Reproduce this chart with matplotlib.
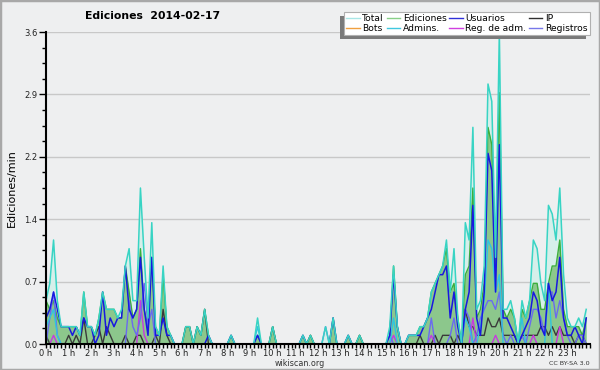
import matplotlib
matplotlib.use("Agg")
import matplotlib.pyplot as plt
from matplotlib.lines import Line2D
from matplotlib.patches import Rectangle
from matplotlib.ticker import MultipleLocator, FixedLocator

# edits per minute, 10 minute bins, 2014-02-17
total = [.5, .7, 1.2, .5, .2, .2, .2, .2, .2, .1, .6, .2, .2, .1, .3, .6, .4, .4, .4, .3, .4, .9, 1.1, .5,
         .5, 1.8, 1.0, .3, 1.4, .2, .1, .9, .2, .1, 0, 0, 0, .2, .2, 0, .2, .1, .4, .1, 0, 0, 0, 0,
         0, .1, 0, 0, 0, 0, 0, 0, .3, 0, 0, 0, .2, 0, 0, 0, 0, 0, 0, 0, .1, 0, .1, 0,
         0, 0, .2, 0, .3, 0, 0, 0, .1, 0, 0, .1, 0, 0, 0, 0, 0, 0, 0, .2, .9, .2, 0, 0,
         .1, .1, .1, .2, .2, .3, .6, .7, .8, .9, 1.2, .6, 1.1, .3, 0, 1.4, 1.2, 2.5, .4, .5, .9, 3.0, 2.8, 1.0,
         3.6, .4, .4, .5, .3, 0, .5, .3, .5, 1.2, 1.1, .7, .5, 1.6, 1.5, 1.2, 1.8, .8, .3, .2, .2, .3, .2, .4]
edits = [.5, .4, .5, .3, .2, .2, .2, .2, .2, .1, .6, .2, .2, .1, .3, .6, .4, .4, .4, .3, .3, .9, .6, .3,
         .4, 1.1, .4, .2, 1.0, .2, .1, .8, .2, .1, 0, 0, 0, .2, .2, 0, .2, .1, .4, .1, 0, 0, 0, 0,
         0, .1, 0, 0, 0, 0, 0, 0, .1, 0, 0, 0, .2, 0, 0, 0, 0, 0, 0, 0, .1, 0, .1, 0,
         0, 0, 0, 0, .3, 0, 0, 0, .1, 0, 0, .1, 0, 0, 0, 0, 0, 0, 0, .1, .9, .2, 0, 0,
         .1, .1, .1, .2, .2, .3, .6, .7, .8, .9, 1.1, .6, .7, .3, 0, .8, .9, 1.8, .3, .4, .7, 2.5, 2.3, .9,
         2.9, .4, .3, .4, .3, 0, .4, .3, .5, .7, .7, .4, .4, .7, .9, .9, 1.2, .4, .2, .2, .2, .2, .1, .3]
users = [.3, .4, .6, .4, .2, .2, .2, .1, .2, .1, .3, .2, .2, 0, .1, .6, .1, .3, .2, .3, .3, .9, .4, .3,
         .4, 1.0, .4, .1, 1.0, .1, .1, .3, .1, .1, 0, 0, 0, 0, 0, 0, 0, 0, 0, .1, 0, 0, 0, 0,
         0, .1, 0, 0, 0, 0, 0, 0, .1, 0, 0, 0, 0, 0, 0, 0, 0, 0, 0, 0, .1, 0, 0, 0,
         0, 0, 0, 0, .3, 0, 0, 0, .1, 0, 0, 0, 0, 0, 0, 0, 0, 0, 0, .1, .8, .2, 0, 0,
         .1, .1, .1, .1, .2, .3, .4, .6, .8, .8, .9, .3, .6, .2, 0, .4, .6, 1.6, .3, .1, .6, 2.2, 2.0, .6,
         2.3, .3, .3, .2, .1, 0, .1, .2, .3, .6, .5, .2, .1, .7, .5, .6, 1.0, .3, .1, .1, .2, .1, 0, .3]
ip = [.1, 0, 0, 0, 0, 0, .1, 0, .1, 0, .3, 0, 0, .1, .2, 0, .2, .1, 0, 0, 0, .1, 0, 0,
      .1, .1, 0, 0, 0, .1, 0, .4, .1, 0, 0, 0, 0, .2, .2, 0, .2, .1, .4, 0, 0, 0, 0, 0,
      0, 0, 0, 0, 0, 0, 0, 0, 0, 0, 0, 0, .2, 0, 0, 0, 0, 0, 0, 0, 0, 0, .1, 0,
      0, 0, 0, 0, 0, 0, 0, 0, 0, 0, 0, .1, 0, 0, 0, 0, 0, 0, 0, 0, 0, 0, 0, 0,
      0, 0, 0, .1, 0, 0, 0, .1, 0, .1, .1, .1, 0, .1, 0, .4, .2, .2, .1, .1, .1, .3, .2, .2,
      .3, .1, .1, .1, .1, 0, .1, .1, .1, .1, .1, .2, .2, .1, .2, .1, .2, .1, .1, .1, 0, .1, .1, 0]
bots = [0, 0, 0, 0, 0, 0, 0, 0, 0, 0, 0, 0, 0, 0, 0, 0, 0, 0, 0, 0, 0, 0, 0, 0,
        0, 0, 0, 0, 0, 0, 0, 0, 0, 0, 0, 0, 0, 0, 0, 0, 0, 0, 0, 0, 0, 0, 0, 0,
        0, 0, 0, 0, 0, 0, 0, 0, 0, 0, 0, 0, 0, 0, 0, 0, 0, 0, 0, 0, 0, 0, 0, 0,
        0, 0, 0, 0, 0, 0, 0, 0, 0, 0, 0, 0, 0, 0, 0, 0, 0, 0, 0, 0, 0, 0, 0, 0,
        0, 0, 0, 0, 0, 0, 0, 0, 0, 0, 0, 0, 0, 0, 0, 0, 0, 0, 0, 0, 0, 0, 0, 0,
        0, 0, 0, 0, 0, 0, 0, 0, 0, 0, 0, 0, 0, 0, 0, 0, 0, 0, 0, 0, 0, 0, 0, 0]
admins = [.2, .3, .4, .1, 0, 0, 0, 0, 0, 0, 0, 0, 0, 0, 0, 0, 0, 0, 0, 0, 0, 0, 0, 0,
          0, 0, 0, 0, 0, 0, 0, 0, 0, 0, 0, 0, 0, 0, 0, 0, 0, 0, 0, 0, 0, 0, 0, 0,
          0, 0, 0, 0, 0, 0, 0, 0, .2, 0, 0, 0, 0, 0, 0, 0, 0, 0, 0, 0, 0, 0, 0, 0,
          0, 0, 0, 0, 0, 0, 0, 0, 0, 0, 0, 0, 0, 0, 0, 0, 0, 0, 0, 0, .3, 0, 0, 0,
          0, 0, 0, 0, 0, 0, 0, 0, 0, 0, 0, 0, 0, 0, 0, .3, .2, 0, 0, .2, .5, 1.2, 1.1, .6,
          .8, 0, 0, 0, 0, 0, .3, 0, 0, 0, 0, 0, 0, .7, 0, 0, 0, 0, 0, 0, 0, 0, 0, 0]
reg_adm = [0, 0, .1, 0, 0, 0, 0, 0, 0, 0, 0, 0, 0, 0, 0, 0, 0, 0, 0, 0, 0, 0, 0, 0,
           0, .5, .1, 0, 0, 0, 0, 0, 0, 0, 0, 0, 0, 0, 0, 0, 0, 0, 0, 0, 0, 0, 0, 0,
           0, 0, 0, 0, 0, 0, 0, 0, 0, 0, 0, 0, 0, 0, 0, 0, 0, 0, 0, 0, 0, 0, 0, 0,
           0, 0, 0, 0, 0, 0, 0, 0, 0, 0, 0, 0, 0, 0, 0, 0, 0, 0, 0, 0, .1, 0, 0, 0,
           0, 0, 0, 0, 0, 0, .1, 0, 0, 0, 0, 0, 0, 0, 0, 0, 0, .3, 0, 0, 0, 0, 0, .1,
           0, 0, 0, 0, 0, 0, 0, 0, 0, .1, 0, 0, 0, 0, 0, 0, .2, 0, 0, 0, 0, 0, 0, 0]
logs = [0, .3, .6, .1, 0, 0, 0, 0, 0, 0, 0, 0, 0, 0, 0, 0, 0, 0, 0, 0, 0, 0, .5, .2,
        .1, .3, .7, .2, .4, 0, 0, 0, 0, 0, 0, 0, 0, 0, 0, 0, 0, 0, 0, 0, 0, 0, 0, 0,
        0, 0, 0, 0, 0, 0, 0, 0, 0, 0, 0, 0, 0, 0, 0, 0, 0, 0, 0, 0, 0, 0, 0, 0,
        0, 0, .2, 0, 0, 0, 0, 0, 0, 0, 0, 0, 0, 0, 0, 0, 0, 0, 0, .1, 0, 0, 0, 0,
        0, 0, 0, 0, 0, 0, .3, 0, 0, 0, 0, .1, .3, 0, 0, .4, .3, 0, .1, .3, .4, .5, .5, .4,
        .6, .1, 0, .1, 0, 0, .1, 0, .2, .4, .4, .3, .1, .6, .6, .3, .5, .3, .1, 0, 0, .1, .1, 0]

hour_labels = ["%d h" % h for h in range(24)]
x = [i / 6 for i in range(len(total))]

bg = "#eeeff0"
fig = plt.figure(figsize=(6, 3.7), dpi=100, facecolor=bg)
ax = fig.add_axes([46 / 600, 26 / 370, 544 / 600, 312 / 370])
ax.set_facecolor(bg)

# fills
ax.fill_between(x, total, color="#d6efea", lw=0, zorder=1)
ax.fill_between(x, edits, color="#8cc78c", lw=0, zorder=2)

# lines
ax.plot(x, bots, color="#f0a040", lw=1, zorder=3)
ax.plot(x, ip, color="#3a3a3a", lw=1, zorder=4)
ax.plot(x, reg_adm, color="#c838e0", lw=1, zorder=4)
ax.plot(x, logs, color="#6a6af0", lw=1, zorder=4)
ax.plot(x, edits, color="#3cae3c", lw=1, zorder=3)
ax.plot(x, admins, color="#30c4e0", lw=1, zorder=5)
ax.plot(x, users, color="#1818e0", lw=1.1, zorder=6)
ax.plot(x, total, color="#38d4c4", lw=1.1, zorder=7)

ax.set_xlim(0, 24)
ax.set_ylim(0, 3.6)

# axes formatting
for s in ["top", "right"]:
    ax.spines[s].set_visible(False)
ax.spines["left"].set_linewidth(1.5)
ax.spines["bottom"].set_linewidth(1.5)
ax.spines["left"].set_zorder(10)
ax.spines["bottom"].set_zorder(10)

yt = [0, 0.72, 1.44, 2.16, 2.88, 3.6]
ax.yaxis.set_major_locator(FixedLocator(yt))
ax.yaxis.set_minor_locator(MultipleLocator(0.18))
ax.set_yticklabels(["%.1f" % v for v in yt])
ax.xaxis.set_major_locator(FixedLocator(list(range(24))))
ax.xaxis.set_minor_locator(MultipleLocator(1 / 6))
ax.set_xticklabels(hour_labels)
ax.tick_params(axis="both", which="both", direction="out", color="black", labelsize=6, labelcolor="#222222")
ax.tick_params(axis="x", which="major", length=3, width=1, pad=0.5)
ax.tick_params(axis="x", which="minor", length=3, width=1)
ax.tick_params(axis="y", which="major", length=5, width=1, pad=1)
ax.tick_params(axis="y", which="minor", length=3, width=1)
ax.grid(axis="y", which="major", color="#c8c8c8", lw=1)
ax.set_axisbelow(True)

ax.set_ylabel("Ediciones/min", fontsize=8, labelpad=5)

fig.text(85 / 600, 1 - 16 / 370, "Ediciones  2014-02-17", fontsize=7.8, fontweight="bold", va="center", ha="left")
fig.text(300 / 600, 1 - 363.5 / 370, "wikiscan.org", fontsize=5.8, ha="center", va="center", color="#333333")
fig.text(590 / 600, 1 - 363.5 / 370, "CC BY-SA 3.0", fontsize=4.6, ha="right", va="center", color="#333333")

# legend, column order
names = ["Total", "Bots", "Ediciones", "Admins.", "Usuarios", "Reg. de adm.", "IP", "Registros"]
cols = ["#a8e6e6", "#f0a040", "#88d088", "#40c8e0", "#3030d8", "#d040e0", "#303030", "#7878ea"]
handles = [Line2D([], [], color=c, lw=1) for c in cols]
leg = fig.legend(handles, names, ncol=4, loc="upper right", bbox_to_anchor=(590 / 600, 1 - 12 / 370),
                 borderaxespad=0, fontsize=6.6, handlelength=1.45, handletextpad=0.3, columnspacing=0.3,
                 labelspacing=0.05, borderpad=0.25, fancybox=False, framealpha=1,
                 edgecolor="#b0b0b0")
leg.get_frame().set_linewidth(0.8)
leg.set_zorder(20)

# gray shadow to the lower left of the legend box
fig.canvas.draw()
bb = leg.get_window_extent()
fig.patches.append(Rectangle((bb.x0 - 4, bb.y0 - 4), bb.width, bb.height, transform=None,
                             facecolor="#7a7a7a", edgecolor="none", zorder=15))

# outer border
fig.patches.append(Rectangle((0, 0), 1, 1, transform=fig.transFigure, fill=False,
                             edgecolor="#a8a8a8", lw=2.5))

fig.savefig("out.png", dpi=100, facecolor=bg)
